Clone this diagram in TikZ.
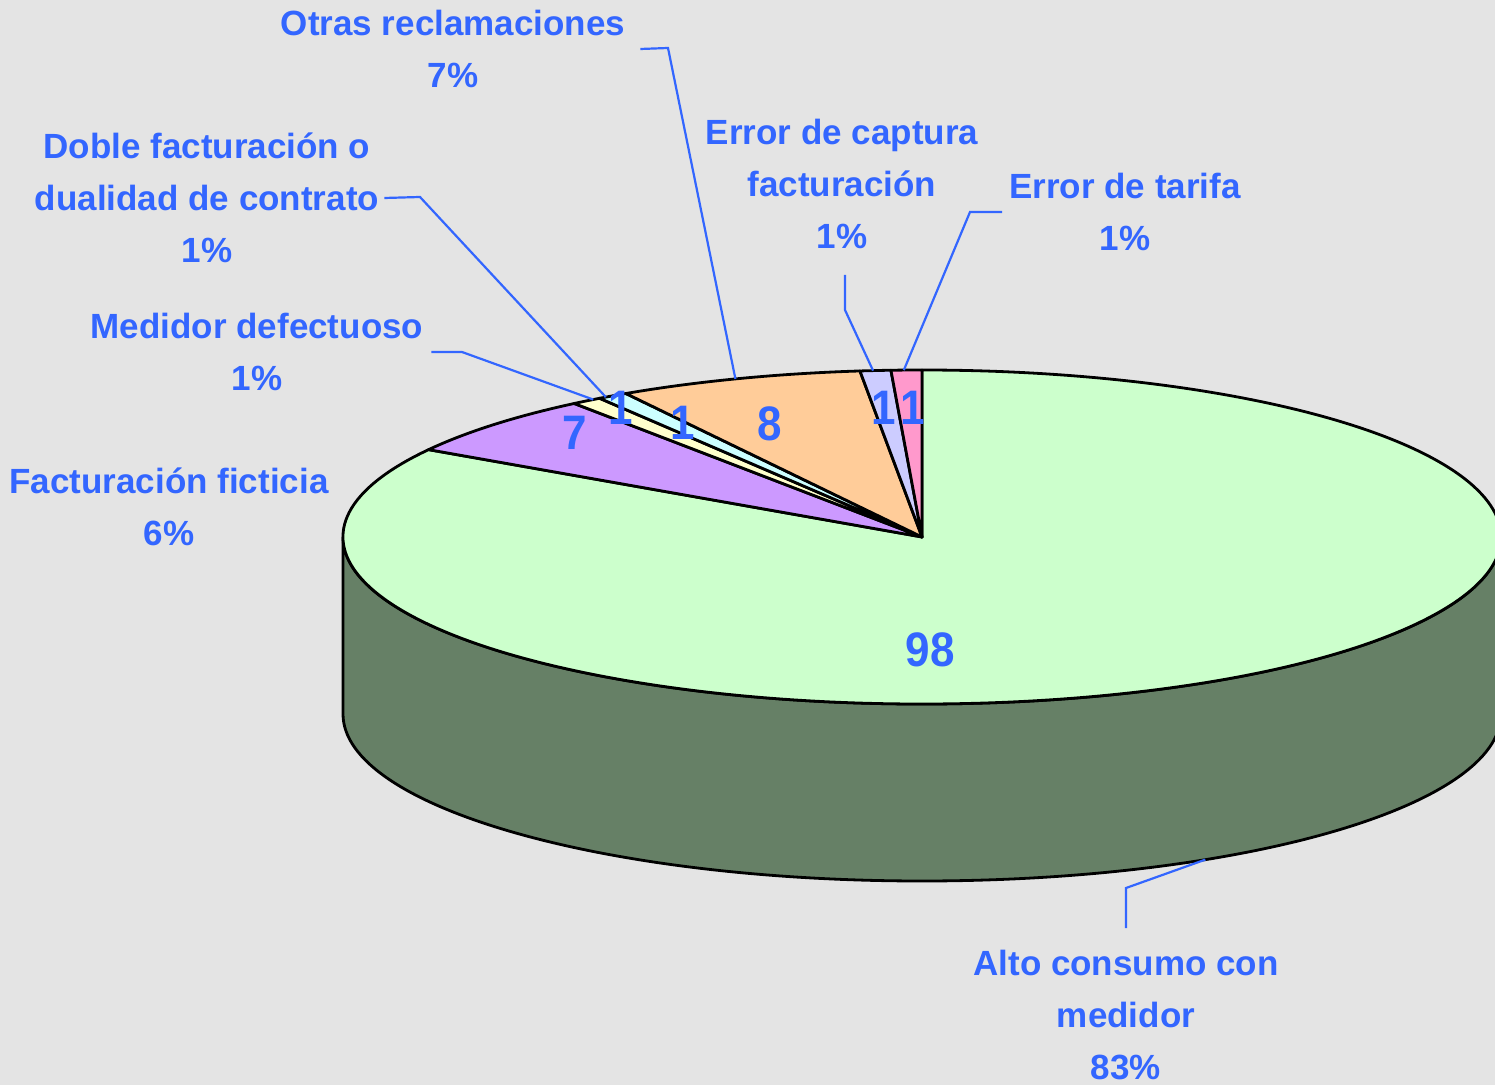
\documentclass[tikz,border=0pt]{standalone}
\usepackage{fontspec}
\setmainfont{Liberation Sans}
\definecolor{bgc}{RGB}{228,228,228}
\definecolor{txtblue}{RGB}{51,102,255}
\definecolor{cpink}{RGB}{255,153,204}
\definecolor{clav}{RGB}{204,204,255}
\definecolor{corange}{RGB}{255,204,153}
\definecolor{ccyan}{RGB}{204,255,255}
\definecolor{cyellow}{RGB}{255,255,204}
\definecolor{cpurple}{RGB}{204,153,255}
\definecolor{cgreen}{RGB}{204,255,204}
\definecolor{cside}{RGB}{102,128,102}
\newcommand\myslice[3]{%
  \filldraw[pieline, fill=#3] (C) -- ++(#1:579pt and 167pt)
    arc[start angle=#1, end angle=#2, x radius=579pt, y radius=167pt] -- cycle;}
\begin{document}
\begin{tikzpicture}[x=1pt,y=1pt,
  lbl/.style={text=txtblue, font=\bfseries\fontsize{35}{52}\selectfont, align=center, inner sep=0pt},
  val/.style={text=txtblue, font=\bfseries\fontsize{44}{44}\selectfont, inner sep=0pt, yscale=1.1},
  leader/.style={draw=txtblue, line width=2.2pt},
  pieline/.style={draw=black, line width=2.8pt, line join=round}]
\useasboundingbox (0,0) rectangle (1495,1085);
\clip (0,0) rectangle (1495,1085);
\fill[bgc] (0,0) rectangle (1495,1085);
\coordinate (C) at (922,548);
% side of the pie
\filldraw[pieline, fill=cside] (343,548)
  arc[start angle=180, end angle=360, x radius=579pt, y radius=167pt]
  -- ++(0,-177)
  arc[start angle=360, end angle=180, x radius=579pt, y radius=167pt] -- cycle;
% top slices
\myslice{148.462}{450}{cgreen}
\myslice{126.923}{148.462}{cpurple}
\myslice{123.846}{126.923}{cyellow}
\myslice{120.769}{123.846}{ccyan}
\myslice{96.154}{120.769}{corange}
\myslice{93.077}{96.154}{clav}
\myslice{90}{93.077}{cpink}
% value labels
\node[val, transform shape] (v7) at (575,652) {7};
\node[val, transform shape] (v1a) at (621,677) {1};
\node[val, transform shape] (v1b) at (683,662) {1};
\node[val, transform shape] (v8) at (770,661) {8};
\node[val, transform shape] (v1c) at (884,677) {1};
\node[val, transform shape] (v1d) at (913,677) {1};
\node[val, transform shape] (v98) at (930,435) {98};
% category labels
\node[lbl] (otras) at (453,1036) {Otras reclamaciones\\7\%};
\node[lbl] (doble) at (207,887) {Doble facturación o\\dualidad de contrato\\1\%};
\node[lbl] (captura) at (842,901) {Error de captura\\facturación\\1\%};
\node[lbl] (tarifa) at (1125,873) {Error de tarifa\\1\%};
\node[lbl] (medidor) at (257,733) {Medidor defectuoso\\1\%};
\node[lbl] (ficticia) at (169,578) {Facturación ficticia\\6\%};
\node[lbl] (alto) at (1126,70) {Alto consumo con\\medidor\\83\%};
% leader end points on the pie
\path (C) ++(91.8:579pt and 167pt) coordinate (pkE);
\path (C) ++(94.85:579pt and 167pt) coordinate (lvE);
\path (C) ++(108.8:579pt and 167pt) coordinate (orE);
\path (C) ++(123.1:579pt and 167pt) coordinate (cyE);
\path (C) ++(124.6:579pt and 167pt) coordinate (yeE);
\path (C) ++(0,-177) ++(299.3:579pt and 167pt) coordinate (grE);
% leaders
\draw[leader] ([xshift=15pt]otras.east) -- (668,1037) -- (orE);
\draw[leader] ([xshift=5pt]doble.east) -- (420,888) -- (cyE);
\draw[leader] ([xshift=8pt]medidor.east) -- (462,733) -- (yeE);
\draw[leader] (845,810) -- (845,775) -- (lvE);
\draw[leader] ([xshift=-7pt]tarifa.west) -- (970,873) -- (pkE);
\draw[leader] (1126,157) -- (1126,197) -- (grE);
\end{tikzpicture}
\end{document}
